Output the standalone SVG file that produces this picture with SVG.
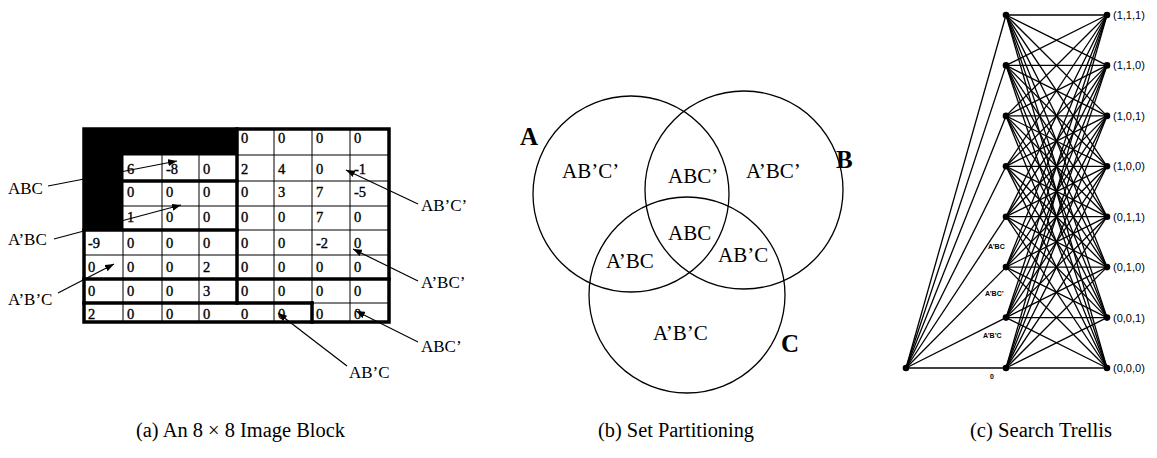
<svg xmlns="http://www.w3.org/2000/svg" width="1157" height="458" viewBox="0 0 1157 458">
  <style>
    .lbl { font-family: "Liberation Serif", "Times New Roman", serif; font-size: 17px; fill: #000; }
    .num { font-family: "Liberation Serif", "Times New Roman", serif; font-size: 14.5px; fill: #000; stroke: #000; stroke-width: 0.35; }
    .set { font-family: "Liberation Serif", "Times New Roman", serif; font-size: 21px; fill: #000; }
    .big { font-family: "Liberation Serif", "Times New Roman", serif; font-size: 25px; font-weight: bold; fill: #000; }
    .cap { font-family: "Liberation Serif", "Times New Roman", serif; font-size: 20px; fill: #000; }
    .tl  { font-family: "Liberation Sans", Arial, sans-serif; font-size: 11px; fill: #000; }
    .te  { font-family: "Liberation Sans", Arial, sans-serif; font-size: 7px; font-weight: bold; fill: #000; }
    .thin { stroke: #000; stroke-width: 1; fill: none; }
    .thick { stroke: #000; stroke-width: 3.5; fill: none; stroke-linecap: square; }
    .ptr { stroke: #000; stroke-width: 1.2; fill: none; marker-end: url(#ah); }
    .circ { stroke: #000; stroke-width: 1.3; fill: none; }
    .edge { stroke: #000; stroke-width: 1.3; }
    .dot { fill: #000; }
  </style>
  <defs>
    <marker id="ah" markerUnits="userSpaceOnUse" markerWidth="9" markerHeight="7" refX="9" refY="3.5" orient="auto">
      <path d="M0,0 L9,3.5 L0,7 z" fill="#000"/>
    </marker>
  </defs>
  <rect width="1157" height="458" fill="#fff"/>

  <!-- (a) 8x8 block -->
  <g id="block">
    <!-- thin cell rules: columns 84 123 162 199 237 274 312 350 389, rows 129 155 181 206 230 255 279 303 322 -->
    <g class="thin">
      <line x1="123" y1="129" x2="123" y2="322"/>
      <line x1="162" y1="129" x2="162" y2="322"/>
      <line x1="199" y1="129" x2="199" y2="322"/>
      <line x1="274" y1="129" x2="274" y2="322"/>
      <line x1="312" y1="129" x2="312" y2="322"/>
      <line x1="350" y1="129" x2="350" y2="322"/>
      <line x1="84" y1="155" x2="389" y2="155"/>
      <line x1="84" y1="181" x2="389" y2="181"/>
      <line x1="84" y1="206" x2="389" y2="206"/>
      <line x1="84" y1="230" x2="389" y2="230"/>
      <line x1="84" y1="255" x2="389" y2="255"/>
      <line x1="84" y1="279" x2="389" y2="279"/>
      <line x1="84" y1="303" x2="389" y2="303"/>
    </g>
    <!-- dark corner -->
    <path d="M84,129 H237 V155 H123 V230 H84 Z" fill="#000"/>
    <!-- partition borders -->
    <g class="thick">
      <rect x="84" y="129" width="305" height="193"/>
      <line x1="237" y1="129" x2="237" y2="303"/>
      <line x1="123" y1="181" x2="237" y2="181"/>
      <line x1="84" y1="230" x2="237" y2="230"/>
      <line x1="84" y1="279" x2="389" y2="279"/>
      <line x1="84" y1="303" x2="312" y2="303"/>
      <line x1="312" y1="303" x2="312" y2="322"/>
    </g>
    <!-- coefficients -->
    <g class="num">
      <text x="241" y="143">0</text><text x="278" y="143">0</text><text x="316" y="143">0</text><text x="354" y="143">0</text>
      <text x="127" y="174">6</text><text x="166" y="174">-8</text><text x="203" y="174">0</text><text x="241" y="174">2</text><text x="278" y="174">4</text><text x="316" y="174">0</text><text x="354" y="174">-1</text>
      <text x="127" y="197">0</text><text x="166" y="197">0</text><text x="203" y="197">0</text><text x="241" y="197">0</text><text x="278" y="197">3</text><text x="316" y="197">7</text><text x="354" y="197">-5</text>
      <text x="127" y="222">1</text><text x="166" y="222">0</text><text x="203" y="222">0</text><text x="241" y="222">0</text><text x="278" y="222">0</text><text x="316" y="222">7</text><text x="354" y="222">0</text>
      <text x="88" y="248">-9</text><text x="127" y="248">0</text><text x="166" y="248">0</text><text x="203" y="248">0</text><text x="241" y="248">0</text><text x="278" y="248">0</text><text x="316" y="248">-2</text><text x="354" y="248">0</text>
      <text x="88" y="272">0</text><text x="127" y="272">0</text><text x="166" y="272">0</text><text x="203" y="272">2</text><text x="241" y="272">0</text><text x="278" y="272">0</text><text x="316" y="272">0</text><text x="354" y="272">0</text>
      <text x="88" y="296">0</text><text x="127" y="296">0</text><text x="166" y="296">0</text><text x="203" y="296">3</text><text x="241" y="296">0</text><text x="278" y="296">0</text><text x="316" y="296">0</text><text x="354" y="296">0</text>
      <text x="88" y="319">2</text><text x="127" y="319">0</text><text x="166" y="319">0</text><text x="203" y="319">0</text><text x="241" y="319">0</text><text x="278" y="319">0</text><text x="316" y="319">0</text><text x="354" y="319">0</text>
    </g>
  </g>

  <!-- set labels of the block -->
  <g id="block-labels" class="lbl">
    <text x="8" y="194">ABC</text>
    <text x="8" y="245">A’BC</text>
    <text x="8" y="305">A’B’C</text>
    <text x="421" y="211">AB’C’</text>
    <text x="421" y="288">A’BC’</text>
    <text x="421" y="352">ABC’</text>
    <text x="349" y="378">AB’C</text>
  </g>

  <!-- pointers from labels into the block -->
  <g id="pointers">
    <line class="ptr" x1="48" y1="186" x2="177" y2="161"/>
    <line class="ptr" x1="54" y1="239" x2="181" y2="205"/>
    <line class="ptr" x1="58" y1="293" x2="114" y2="264"/>
    <line class="ptr" x1="418" y1="204" x2="346" y2="170"/>
    <line class="ptr" x1="418" y1="281" x2="353" y2="249"/>
    <line class="ptr" x1="418" y1="342" x2="356" y2="311"/>
    <line class="ptr" x1="347" y1="366" x2="278" y2="313"/>
  </g>

  <!-- (b) Venn diagram -->
  <g id="venn">
    <circle class="circ" cx="631" cy="194" r="98"/>
    <circle class="circ" cx="744" cy="190" r="99"/>
    <circle class="circ" cx="687" cy="295" r="98"/>
    <text class="big" x="520" y="145">A</text>
    <text class="big" x="836" y="168">B</text>
    <text class="big" x="781" y="352">C</text>
    <g class="set">
      <text x="562" y="178">AB’C’</text>
      <text x="668" y="183">ABC’</text>
      <text x="746" y="178">A’BC’</text>
      <text x="668" y="240">ABC</text>
      <text x="606" y="268">A’BC</text>
      <text x="718" y="262">AB’C</text>
      <text x="653" y="340">A’B’C</text>
    </g>
  </g>

  <!-- (c) search trellis -->
  <g id="trellis-edges">
    <g class="edge">
      <line x1="906" y1="368" x2="1006" y2="15"/>
      <line x1="906" y1="368" x2="1006" y2="65.4"/>
      <line x1="906" y1="368" x2="1006" y2="115.9"/>
      <line x1="906" y1="368" x2="1006" y2="166.3"/>
      <line x1="906" y1="368" x2="1006" y2="216.7"/>
      <line x1="906" y1="368" x2="1006" y2="267.1"/>
      <line x1="906" y1="368" x2="1006" y2="317.6"/>
      <line x1="906" y1="368" x2="1006" y2="368"/>
    </g>
    <g class="edge" id="stage2">
      <line x1="1006" y1="15" x2="1107" y2="15"/><line x1="1006" y1="15" x2="1107" y2="65.4"/><line x1="1006" y1="15" x2="1107" y2="115.9"/><line x1="1006" y1="15" x2="1107" y2="166.3"/><line x1="1006" y1="15" x2="1107" y2="216.7"/><line x1="1006" y1="15" x2="1107" y2="267.1"/><line x1="1006" y1="15" x2="1107" y2="317.6"/><line x1="1006" y1="15" x2="1107" y2="368"/>
      <line x1="1006" y1="65.4" x2="1107" y2="15"/><line x1="1006" y1="65.4" x2="1107" y2="65.4"/><line x1="1006" y1="65.4" x2="1107" y2="115.9"/><line x1="1006" y1="65.4" x2="1107" y2="166.3"/><line x1="1006" y1="65.4" x2="1107" y2="216.7"/><line x1="1006" y1="65.4" x2="1107" y2="267.1"/><line x1="1006" y1="65.4" x2="1107" y2="317.6"/><line x1="1006" y1="65.4" x2="1107" y2="368"/>
      <line x1="1006" y1="115.9" x2="1107" y2="15"/><line x1="1006" y1="115.9" x2="1107" y2="65.4"/><line x1="1006" y1="115.9" x2="1107" y2="115.9"/><line x1="1006" y1="115.9" x2="1107" y2="166.3"/><line x1="1006" y1="115.9" x2="1107" y2="216.7"/><line x1="1006" y1="115.9" x2="1107" y2="267.1"/><line x1="1006" y1="115.9" x2="1107" y2="317.6"/><line x1="1006" y1="115.9" x2="1107" y2="368"/>
      <line x1="1006" y1="166.3" x2="1107" y2="15"/><line x1="1006" y1="166.3" x2="1107" y2="65.4"/><line x1="1006" y1="166.3" x2="1107" y2="115.9"/><line x1="1006" y1="166.3" x2="1107" y2="166.3"/><line x1="1006" y1="166.3" x2="1107" y2="216.7"/><line x1="1006" y1="166.3" x2="1107" y2="267.1"/><line x1="1006" y1="166.3" x2="1107" y2="317.6"/><line x1="1006" y1="166.3" x2="1107" y2="368"/>
      <line x1="1006" y1="216.7" x2="1107" y2="15"/><line x1="1006" y1="216.7" x2="1107" y2="65.4"/><line x1="1006" y1="216.7" x2="1107" y2="115.9"/><line x1="1006" y1="216.7" x2="1107" y2="166.3"/><line x1="1006" y1="216.7" x2="1107" y2="216.7"/><line x1="1006" y1="216.7" x2="1107" y2="267.1"/><line x1="1006" y1="216.7" x2="1107" y2="317.6"/><line x1="1006" y1="216.7" x2="1107" y2="368"/>
      <line x1="1006" y1="267.1" x2="1107" y2="15"/><line x1="1006" y1="267.1" x2="1107" y2="65.4"/><line x1="1006" y1="267.1" x2="1107" y2="115.9"/><line x1="1006" y1="267.1" x2="1107" y2="166.3"/><line x1="1006" y1="267.1" x2="1107" y2="216.7"/><line x1="1006" y1="267.1" x2="1107" y2="267.1"/><line x1="1006" y1="267.1" x2="1107" y2="317.6"/><line x1="1006" y1="267.1" x2="1107" y2="368"/>
      <line x1="1006" y1="317.6" x2="1107" y2="15"/><line x1="1006" y1="317.6" x2="1107" y2="65.4"/><line x1="1006" y1="317.6" x2="1107" y2="115.9"/><line x1="1006" y1="317.6" x2="1107" y2="166.3"/><line x1="1006" y1="317.6" x2="1107" y2="216.7"/><line x1="1006" y1="317.6" x2="1107" y2="267.1"/><line x1="1006" y1="317.6" x2="1107" y2="317.6"/><line x1="1006" y1="317.6" x2="1107" y2="368"/>
      <line x1="1006" y1="368" x2="1107" y2="15"/><line x1="1006" y1="368" x2="1107" y2="65.4"/><line x1="1006" y1="368" x2="1107" y2="115.9"/><line x1="1006" y1="368" x2="1107" y2="166.3"/><line x1="1006" y1="368" x2="1107" y2="216.7"/><line x1="1006" y1="368" x2="1107" y2="267.1"/><line x1="1006" y1="368" x2="1107" y2="317.6"/><line x1="1006" y1="368" x2="1107" y2="368"/>
    </g>
    <g class="te">
      <text x="988" y="249">A’BC</text>
      <text x="985" y="296">A’BC’</text>
      <text x="983" y="338">A’B’C</text>
      <text x="990" y="379">0</text>
    </g>
  </g>
  <g id="n-start"><circle class="dot" cx="906" cy="368" r="3.3"/></g>
  <g id="n-mid">
    <circle class="dot" cx="1006" cy="15" r="3.3"/>
    <circle class="dot" cx="1006" cy="65.4" r="3.3"/>
    <circle class="dot" cx="1006" cy="115.9" r="3.3"/>
    <circle class="dot" cx="1006" cy="166.3" r="3.3"/>
    <circle class="dot" cx="1006" cy="216.7" r="3.3"/>
    <circle class="dot" cx="1006" cy="267.1" r="3.3"/>
    <circle class="dot" cx="1006" cy="317.6" r="3.3"/>
    <circle class="dot" cx="1006" cy="368" r="3.3"/>
  </g>
  <g id="n-111"><circle class="dot" cx="1107" cy="15" r="3.3"/><text class="tl" x="1113" y="19">(1,1,1)</text></g>
  <g id="n-110"><circle class="dot" cx="1107" cy="65.4" r="3.3"/><text class="tl" x="1113" y="69.4">(1,1,0)</text></g>
  <g id="n-101"><circle class="dot" cx="1107" cy="115.9" r="3.3"/><text class="tl" x="1113" y="119.9">(1,0,1)</text></g>
  <g id="n-100"><circle class="dot" cx="1107" cy="166.3" r="3.3"/><text class="tl" x="1113" y="170.3">(1,0,0)</text></g>
  <g id="n-011"><circle class="dot" cx="1107" cy="216.7" r="3.3"/><text class="tl" x="1113" y="220.7">(0,1,1)</text></g>
  <g id="n-010"><circle class="dot" cx="1107" cy="267.1" r="3.3"/><text class="tl" x="1113" y="271.1">(0,1,0)</text></g>
  <g id="n-001"><circle class="dot" cx="1107" cy="317.6" r="3.3"/><text class="tl" x="1113" y="321.6">(0,0,1)</text></g>
  <g id="n-000"><circle class="dot" cx="1107" cy="368" r="3.3"/><text class="tl" x="1113" y="372">(0,0,0)</text></g>

  <!-- captions -->
  <g id="captions" class="cap">
    <text x="136" y="437" textLength="209" lengthAdjust="spacingAndGlyphs">(a) An 8 × 8 Image Block</text>
    <text x="598" y="437" textLength="156" lengthAdjust="spacingAndGlyphs">(b) Set Partitioning</text>
    <text x="970" y="437" textLength="142" lengthAdjust="spacingAndGlyphs">(c) Search Trellis</text>
  </g>
</svg>
